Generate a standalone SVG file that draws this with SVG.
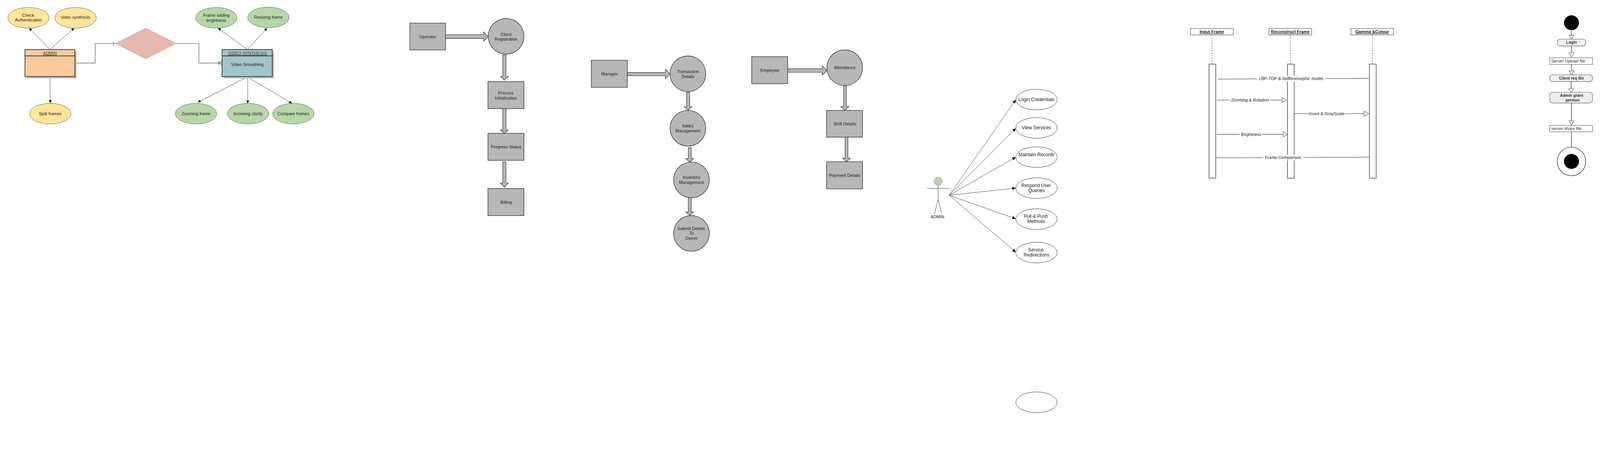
<svg xmlns="http://www.w3.org/2000/svg" width="4489" height="1178" viewBox="0 0 4489 1178" preserveAspectRatio="xMinYMin meet">
<style>
svg{width:100vw;height:100vh}
.er{font-family:"Liberation Sans",Arial,sans-serif;font-size:12px;fill:#222;text-anchor:middle}
.fl{font-family:"Liberation Sans",Arial,sans-serif;font-size:12px;fill:#222;text-anchor:middle}
.uc{font-family:"Liberation Sans",Arial,sans-serif;font-size:13px;fill:#222;text-anchor:middle}
.sq{font-family:"Liberation Sans",Arial,sans-serif;font-size:12px;fill:#222;text-anchor:middle}
.sh{font-family:"Liberation Sans",Arial,sans-serif;font-size:12px;font-weight:bold;fill:#222;text-anchor:middle;text-decoration:underline}
.ac{font-family:"Liberation Sans",Arial,sans-serif;font-size:12px;fill:#333}
.acb{font-family:"Liberation Sans",Arial,sans-serif;font-size:11px;font-weight:bold;fill:#333;text-anchor:middle}
.yel{fill:#ffe599;stroke:#555;stroke-width:1}
.grn{fill:#b6d7a8;stroke:#555;stroke-width:1}
.box{fill:#b7b7b7;stroke:#333;stroke-width:1.5}
.tk{fill:#b7b7b7;stroke:#333;stroke-width:1.3}
.ucE{fill:#fff;stroke:#222;stroke-width:1}
.thin{stroke:#222;stroke-width:0.9;fill:none}
.rel{stroke:#666;stroke-width:1.5;fill:none}
.msg{stroke:#555;stroke-width:1.4;fill:none}
.bar{fill:#fff;stroke:#555;stroke-width:1.8}
.hd{fill:#fff;stroke:#222;stroke-width:1}
.ll{stroke:#333;stroke-width:1;stroke-dasharray:4 3}
.acl{stroke:#666;stroke-width:2;fill:none}
.hol{fill:#fff;stroke:#555;stroke-width:1.2}
.rnd{fill:#eeeeee;stroke:#777;stroke-width:1.5}
.sqr{fill:#fff;stroke:#777;stroke-width:1.5}
.shd{fill:#c0c0c0}
</style>
<defs>
<marker id="ah" markerWidth="10" markerHeight="10" refX="8" refY="4.5" orient="auto" markerUnits="userSpaceOnUse"><path d="M0,0.5 L8,4.5 L0,8.5 Z" fill="#000"/></marker>
<marker id="ahu" markerWidth="11" markerHeight="10" refX="10" refY="5" orient="auto" markerUnits="userSpaceOnUse"><path d="M0,0.5 L10,5 L0,9.5 Z" fill="#000"/></marker>
</defs>
<rect width="4489" height="1178" fill="#fff"/>

<!-- ===== ER diagram ===== -->
<g id="connectors-er">
<line class="thin" x1="140" y1="139" x2="82" y2="79" marker-end="url(#ah)"/>
<line class="thin" x1="140" y1="139" x2="208" y2="79" marker-end="url(#ah)"/>
<line class="thin" x1="140" y1="215" x2="141" y2="289" marker-end="url(#ah)"/>
<line class="thin" x1="694" y1="139" x2="612" y2="79" marker-end="url(#ah)"/>
<line class="thin" x1="694" y1="139" x2="749" y2="79" marker-end="url(#ah)"/>
<line class="thin" x1="694" y1="216" x2="555" y2="287" marker-end="url(#ah)"/>
<line class="thin" x1="695" y1="216" x2="695" y2="290" marker-end="url(#ah)"/>
<line class="thin" x1="694" y1="216" x2="819" y2="290" marker-end="url(#ah)"/>
<polyline class="rel" points="210,177 267,177 267,122 325,122"/>
<line class="rel" x1="319" y1="116" x2="319" y2="128"/>
<polyline class="rel" points="493,122 558,122 558,177 623,177"/>
<line class="rel" x1="613" y1="171" x2="613" y2="184"/>
<line class="rel" x1="615" y1="177" x2="623" y2="171"/>
<line class="rel" x1="615" y1="177" x2="623" y2="183"/>
</g>
<g id="er-check-auth"><ellipse class="yel" cx="80" cy="50" rx="58" ry="29"/><text class="er" x="79" y="47">Check</text><text class="er" x="80" y="60">Authentication</text></g>
<g id="er-video-synthesis"><ellipse class="yel" cx="212" cy="50" rx="58" ry="29"/><text class="er" x="212" y="53">video synthesis</text></g>
<g id="er-split"><ellipse class="yel" cx="141" cy="319" rx="58" ry="29"/><text class="er" x="141" y="323">Split frames</text></g>
<g id="er-admin">
<rect class="shd" x="75" y="144" width="140" height="76"/>
<rect x="70" y="139" width="140" height="76" fill="#f9cb9c" stroke="#111" stroke-width="1.6"/>
<line x1="70" y1="157" x2="210" y2="157" stroke="#111" stroke-width="1.6"/>
<text class="er" x="140" y="153" style="text-decoration:underline;fill:#444">ADMIN</text>
</g>
<g id="er-relation"><polygon points="325,122 409,79 493,122 409,165" fill="#e6b8af" stroke="#888" stroke-width="0.8"/></g>
<g id="er-video-box">
<rect class="shd" x="628" y="144" width="141" height="76"/>
<rect x="623" y="139" width="141" height="76" fill="#a2c4c9" stroke="#111" stroke-width="1.6"/>
<line x1="623" y1="157" x2="764" y2="157" stroke="#111" stroke-width="1.6"/>
<text class="er" x="694" y="153" style="text-decoration:underline;fill:#444">VIDEO SYNTHESIS</text>
<text class="er" x="694" y="185">Video Smoothing</text>
</g>
<g id="er-frame-bright"><ellipse class="grn" cx="607" cy="50" rx="58" ry="29"/><text class="er" x="607" y="47">Frame adding</text><text class="er" x="607" y="61">brightness</text></g>
<g id="er-resize"><ellipse class="grn" cx="753" cy="49" rx="58" ry="29"/><text class="er" x="753" y="53">Resizing frame</text></g>
<g id="er-zoom"><ellipse class="grn" cx="550" cy="319" rx="58" ry="29"/><text class="er" x="550" y="323">Zooming frame</text></g>
<g id="er-clarity"><ellipse class="grn" cx="696" cy="319" rx="58" ry="29"/><text class="er" x="696" y="323">incresing clarity</text></g>
<g id="er-compare"><ellipse class="grn" cx="823" cy="319" rx="58" ry="29"/><text class="er" x="823" y="323">Compare frames</text></g>

<!-- ===== Operator flow ===== -->
<g id="connectors-operator">
<polygon class="tk" points="1250,97 1357,97 1357,89 1370,102.5 1357,116 1357,108 1250,108"/>
<polygon class="tk" points="1410.5,154 1419.5,154 1419.5,214.5 1426,214.5 1415,225 1404,214.5 1410.5,214.5"/>
<polygon class="tk" points="1410.5,305 1419.5,305 1419.5,365 1426,365 1415,374 1404,365 1410.5,365"/>
<polygon class="tk" points="1410.5,454 1419.5,454 1419.5,514 1426,514 1415,525 1404,514 1410.5,514"/>
</g>
<g id="operator"><rect class="box" x="1150" y="65" width="100" height="75"/><text class="fl" x="1200" y="107">Operator</text></g>
<g id="client-registration"><ellipse class="box" cx="1420" cy="102" rx="50" ry="50"/><text class="fl" x="1420" y="101">Client</text><text class="fl" x="1420" y="114">Registration</text></g>
<g id="process-init"><rect class="box" x="1369" y="229" width="101" height="76"/><text class="fl" x="1419" y="265">Process</text><text class="fl" x="1419" y="279">Initialization</text></g>
<g id="progress-status"><rect class="box" x="1369" y="374" width="101" height="76"/><text class="fl" x="1420" y="417">Progress Status</text></g>
<g id="billing"><rect class="box" x="1369" y="529" width="101" height="76"/><text class="fl" x="1420" y="572">Billing</text></g>

<!-- ===== Manager flow ===== -->
<g id="connectors-manager">
<polygon class="tk" points="1760,203.5 1867,203.5 1867,194.5 1880,208 1867,221 1867,212.5 1760,212.5"/>
<polygon class="tk" points="1926.5,259 1935,259 1935,299.5 1941.5,299.5 1930.5,309 1919.5,299.5 1926.5,299.5"/>
<polygon class="tk" points="1931,414 1939.5,414 1939.5,445 1946,445 1935,455 1924,445 1931,445"/>
<polygon class="tk" points="1931,555 1939.5,555 1939.5,595 1946,595 1935,604 1924,595 1931,595"/>
</g>
<g id="manager"><rect class="box" x="1659" y="169" width="101" height="76"/><text class="fl" x="1710" y="212">Manager</text></g>
<g id="transaction-details"><ellipse class="box" cx="1930" cy="207" rx="50" ry="50"/><text class="fl" x="1930" y="205">Transaction</text><text class="fl" x="1930" y="219">Details</text></g>
<g id="salary-management"><ellipse class="box" cx="1930" cy="360" rx="50" ry="50"/><text class="fl" x="1930" y="357">Salary</text><text class="fl" x="1930" y="371">Management</text></g>
<g id="inventory-management"><ellipse class="box" cx="1940" cy="505" rx="50" ry="50"/><text class="fl" x="1940" y="502">Inventory</text><text class="fl" x="1940" y="516">Management</text></g>
<g id="submit-details"><ellipse class="box" cx="1940" cy="655" rx="50" ry="50"/><text class="fl" x="1939" y="645">Submit Details</text><text class="fl" x="1940" y="659">To</text><text class="fl" x="1940" y="673">Owner</text></g>

<!-- ===== Employee flow ===== -->
<g id="connectors-employee">
<polygon class="tk" points="2210,193 2307,193 2307,184 2320,198 2307,211 2307,203 2210,203"/>
<polygon class="tk" points="2366.5,240 2374.5,240 2374.5,299 2382,299 2370.5,310 2359,299 2366.5,299"/>
<polygon class="tk" points="2371,385 2379,385 2379,444 2386,444 2375,454 2364,444 2371,444"/>
</g>
<g id="employee"><rect class="box" x="2109" y="159" width="101" height="76"/><text class="fl" x="2160" y="202">Employee</text></g>
<g id="attendance"><circle class="box" cx="2370" cy="190" r="50"/><text class="fl" x="2370" y="194">Attendance</text></g>
<g id="shift-details"><rect class="box" x="2319" y="310" width="101" height="75"/><text class="fl" x="2370" y="352">Shift Details</text></g>
<g id="payment-details"><rect class="box" x="2319" y="454" width="101" height="76"/><text class="fl" x="2370" y="497">Payment Details</text></g>

<!-- ===== Use case ===== -->
<g id="connectors-usecase">
<line class="thin" x1="2663" y1="548" x2="2850" y2="280" marker-end="url(#ahu)"/>
<line class="thin" x1="2663" y1="548" x2="2850" y2="360" marker-end="url(#ahu)"/>
<line class="thin" x1="2663" y1="548" x2="2850" y2="441" marker-end="url(#ahu)"/>
<line class="thin" x1="2663" y1="548" x2="2850" y2="528" marker-end="url(#ahu)"/>
<line class="thin" x1="2663" y1="548" x2="2850" y2="614" marker-end="url(#ahu)"/>
<line class="thin" x1="2663" y1="548" x2="2850" y2="708" marker-end="url(#ahu)"/>
</g>
<g id="actor-admin">
<circle cx="2632" cy="509" r="11" fill="#b6d7a8" stroke="#666" stroke-width="1"/>
<line x1="2632" y1="520" x2="2632" y2="560" stroke="#555" stroke-width="1.2"/>
<line x1="2601" y1="529" x2="2663" y2="529" stroke="#222" stroke-width="1"/>
<line x1="2632" y1="560" x2="2622" y2="599" stroke="#333" stroke-width="1"/>
<line x1="2632" y1="560" x2="2642" y2="599" stroke="#333" stroke-width="1"/>
<text class="uc" x="2630" y="613" style="font-size:12px">ADMIN</text>
</g>
<g id="uc-login"><ellipse class="ucE" cx="2908" cy="279.5" rx="58" ry="29"/><text class="uc" x="2908" y="284">Login Credentials</text></g>
<g id="uc-view"><ellipse class="ucE" cx="2908" cy="359" rx="58" ry="29"/><text class="uc" x="2908" y="363">View Services</text></g>
<g id="uc-maintain"><ellipse class="ucE" cx="2908" cy="441" rx="58" ry="29"/><text class="uc" x="2908" y="438">Maintain Records</text></g>
<g id="uc-respond"><ellipse class="ucE" cx="2908" cy="528" rx="58" ry="29"/><text class="uc" x="2907" y="525">Respond User</text><text class="uc" x="2908" y="539">Queries</text></g>
<g id="uc-pull"><ellipse class="ucE" cx="2908" cy="615" rx="58" ry="29"/><text class="uc" x="2906" y="612">Pull &amp; Push</text><text class="uc" x="2907" y="626">Methods</text></g>
<g id="uc-service"><ellipse class="ucE" cx="2908" cy="709" rx="58" ry="29"/><text class="uc" x="2906" y="706">Service</text><text class="uc" x="2908" y="720">Redirections</text></g>
<g id="uc-empty"><ellipse class="ucE" cx="2908" cy="1129" rx="58" ry="29"/></g>

<!-- ===== Sequence diagram ===== -->
<g id="seq-input">
<rect class="hd" x="3340" y="80" width="120" height="18"/>
<text class="sh" x="3400" y="93">Input Frame</text>
<line class="ll" x1="3400" y1="98" x2="3400" y2="180"/>
<rect class="bar" x="3392" y="180" width="19" height="320"/>
</g>
<g id="seq-reconstruct">
<rect class="hd" x="3560" y="80" width="120" height="18"/>
<text class="sh" x="3620" y="93">Reconstruct Frame</text>
<line class="ll" x1="3620" y1="98" x2="3620" y2="180"/>
<rect class="bar" x="3612" y="180" width="19" height="320"/>
</g>
<g id="seq-gamma">
<rect class="hd" x="3790" y="80" width="120" height="18"/>
<text class="sh" x="3850" y="93">Gamma &amp;Colour</text>
<line class="ll" x1="3850" y1="98" x2="3850" y2="180"/>
<rect class="bar" x="3842" y="180" width="19" height="320"/>
</g>
<g id="connectors-seq">
<line class="msg" x1="3417" y1="222" x2="3840" y2="220"/>
<rect x="3528" y="213" width="190" height="16" fill="#fff"/>
<text class="sq" x="3622" y="225">LBP-TOP &amp; deiffeomorphic model</text>
<line class="msg" x1="3414" y1="281" x2="3598" y2="281"/>
<polygon class="hol" points="3597,274 3609,281 3597,288"/>
<rect x="3451" y="273" width="112" height="16" fill="#fff"/>
<text class="sq" x="3507" y="285">Zooming &amp; Rotation</text>
<line class="msg" x1="3631" y1="319" x2="3828" y2="319"/>
<polygon class="hol" points="3827,312 3840,319 3827,326"/>
<rect x="3671" y="311" width="103" height="16" fill="#fff"/>
<text class="sq" x="3722" y="323">Invert &amp; GrayScale</text>
<line class="msg" x1="3414" y1="377" x2="3601" y2="377"/>
<polygon class="hol" points="3600,370 3613,377 3600,384"/>
<rect x="3478" y="369" width="63" height="16" fill="#fff"/>
<text class="sq" x="3510" y="381">Brightness</text>
<line class="msg" x1="3411" y1="443" x2="3842" y2="441"/>
<rect x="3544" y="434" width="112" height="16" fill="#fff"/>
<text class="sq" x="3600" y="446">Frame Comparison</text>
</g>

<!-- ===== Activity diagram ===== -->
<g id="connectors-activity">
<line class="acl" x1="4409" y1="86" x2="4409" y2="100"/>
<polygon class="hol" points="4402,99 4416,99 4409,110"/>
<line class="acl" x1="4409" y1="129" x2="4409" y2="149"/>
<polygon class="hol" points="4402,148 4416,148 4409,160"/>
<line class="acl" x1="4409" y1="181" x2="4409" y2="200"/>
<polygon class="hol" points="4402,199 4416,199 4409,210"/>
<line class="acl" x1="4408" y1="229" x2="4408" y2="250"/>
<polygon class="hol" points="4401,249 4415,249 4408,260"/>
<line class="acl" x1="4409" y1="289" x2="4409" y2="340"/>
<polygon class="hol" points="4402,339 4416,339 4409,351"/>
<line class="acl" x1="4409" y1="370" x2="4409" y2="418"/>
<polygon class="hol" points="4402,417 4416,417 4409,428"/>
</g>
<g id="act-start"><circle cx="4409" cy="64" r="21" fill="#000"/></g>
<g id="act-login"><rect class="rnd" x="4369" y="110" width="80" height="19" rx="8"/><text class="acb" x="4409" y="123">Login</text></g>
<g id="act-upload"><rect class="sqr" x="4348" y="162" width="120" height="19"/><text class="ac" x="4352" y="175">Server Upload file</text></g>
<g id="act-client"><rect class="rnd" x="4348" y="210" width="120" height="19" rx="8"/><text class="acb" x="4409" y="224">Client req file</text></g>
<g id="act-admin"><rect class="rnd" x="4348" y="259" width="120" height="30" rx="8"/><text class="acb" x="4409" y="272">Admin grant</text><text class="acb" x="4412" y="285">permsn</text></g>
<g id="act-share"><rect class="sqr" x="4348" y="352" width="120" height="18"/><text class="ac" x="4352" y="365">server share file</text></g>
<g id="act-end"><circle cx="4409" cy="453" r="40" fill="#fff" stroke="#333" stroke-width="1.5"/><circle cx="4409" cy="453" r="21" fill="#000"/></g>
</svg>
